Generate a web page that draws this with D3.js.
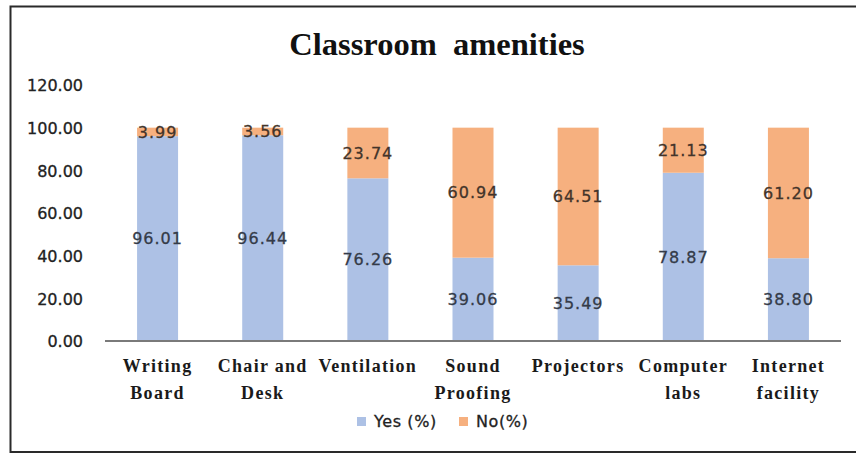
<!DOCTYPE html>
<html>
<head>
<meta charset="utf-8">
<script src="https://cdn.jsdelivr.net/npm/d3@7"></script>
<style>
  html, body { margin: 0; padding: 0; background: #fff; }
  svg { display: block; }
</style>
</head>
<body>
<svg id="chart" width="856" height="454"></svg>
<script>
const categories = [["Writing", "Board"], ["Chair and", "Desk"], ["Ventilation"], ["Sound", "Proofing"], ["Projectors"], ["Computer", "labs"], ["Internet", "facility"]];
const yesValues = [96.01, 96.44, 76.26, 39.06, 35.49, 78.87, 38.80];
const noValues = [3.99, 3.56, 23.74, 60.94, 64.51, 21.13, 61.20];
const yTicks = [0, 20, 40, 60, 80, 100, 120];
const seriesNames = ["Yes (%)", "No(%)"];
const colors = ["#adc1e5", "#f6b07f"];

const svg = d3.select("#chart");
const keys = categories.map(c => c.join(" "));

// frame
svg.append("rect").attr("x", 10.5).attr("y", 6.5).attr("width", 850).attr("height", 445.5)
  .attr("fill", "#fff").attr("stroke", "#2a2a2a").attr("stroke-width", 2);

const x = d3.scaleBand().domain(keys).range([105, 841]).paddingInner(0.61).paddingOuter(0.305);
const y = d3.scaleLinear().domain([0, 120]).range([341, 85]);

// title
svg.append("text").attr("x", 437).attr("y", 55).attr("text-anchor", "middle")
  .style("white-space", "pre")
  .attr("font-family", "'Liberation Serif', serif").attr("font-weight", "bold")
  .attr("font-size", 32.5).attr("fill", "#111").text("Classroom  amenities");

// y axis labels
const yAxis = d3.axisLeft(y).tickValues(yTicks).tickFormat(d3.format(".2f")).tickSize(0).tickPadding(0);
const yg = svg.append("g").attr("transform", "translate(83,0)").call(yAxis);
yg.select(".domain").remove();
yg.selectAll("text").attr("font-family", "'DejaVu Sans', sans-serif").attr("font-size", 16)
  .attr("fill", "#222").attr("stroke", "#222").attr("stroke-width", 0.3).attr("dy", "0.36em");

// stacked data
const rows = keys.map((k, i) => ({ key: k, yes: yesValues[i], no: noValues[i] }));
const stack = d3.stack().keys(["yes", "no"]);
const layers = stack(rows);

const lg = svg.selectAll("g.layer").data(layers).enter().append("g").attr("class", "layer")
  .attr("fill", (d, i) => colors[i]);
lg.selectAll("rect").data(d => d).enter().append("rect")
  .attr("x", d => x(d.data.key))
  .attr("width", x.bandwidth())
  .attr("y", d => y(d[1]))
  .attr("height", d => y(d[0]) - y(d[1]));

// data labels
layers.forEach((layer, li) => {
  const c = li === 0 ? "#343b48" : "#43342a";
  svg.append("g").selectAll("text").data(layer).enter().append("text")
    .attr("x", d => x(d.data.key) + x.bandwidth() / 2)
    .attr("y", d => y((d[0] + d[1]) / 2))
    .attr("dy", "0.36em")
    .attr("text-anchor", "middle")
    .attr("font-family", "'DejaVu Sans', sans-serif")
    .attr("font-size", 16)
    .attr("letter-spacing", 1)
    .attr("fill", c).attr("stroke", c).attr("stroke-width", 0.3)
    .text(d => d3.format(".2f")(d[1] - d[0]));
});

// x axis line
svg.append("line").attr("x1", 105).attr("x2", 841).attr("y1", y(0)).attr("y2", y(0))
  .attr("stroke", "#7a7a7a").attr("stroke-width", 2);

// x labels
const xg = svg.append("g");
categories.forEach((lines, i) => {
  const t = xg.append("text")
    .attr("x", x(keys[i]) + x.bandwidth() / 2)
    .attr("y", 372)
    .attr("text-anchor", "middle")
    .attr("font-family", "'Liberation Serif', serif").attr("font-weight", "bold")
    .attr("font-size", 18).attr("letter-spacing", 1.3).attr("fill", "#1a1a1a");
  lines.forEach((ln, j) => {
    t.append("tspan").attr("x", x(keys[i]) + x.bandwidth() / 2).attr("y", 372 + j * 27).text(ln);
  });
});

// legend
const legendPos = [357, 459];
seriesNames.forEach((name, i) => {
  svg.append("rect").attr("x", legendPos[i]).attr("y", 417).attr("width", 9).attr("height", 9)
    .attr("fill", colors[i]);
  svg.append("text").attr("x", legendPos[i] + 17).attr("y", 427)
    .attr("font-family", "'DejaVu Sans', sans-serif").attr("font-size", 16).attr("letter-spacing", 0.6)
    .attr("fill", "#222").attr("stroke", "#222").attr("stroke-width", 0.3).text(name);
});
</script>
</body>
</html>
